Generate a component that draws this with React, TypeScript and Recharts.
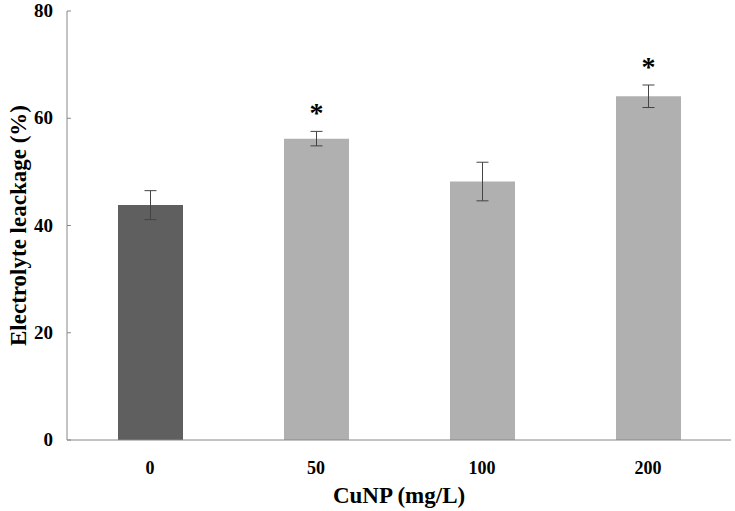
import {
    Bar,
    BarChart,
    Cell,
    ErrorBar,
    LabelList,
    XAxis,
    YAxis,
} from 'recharts'

const categories = ['0', '50', '100', '200']
const leakage = [43.8, 56.2, 48.2, 64.1]
const sd = [2.7, 1.35, 3.6, 2.1]
const marks = ['', '*', '', '*']
const barColors = ['#5f5f5f', '#b0b0b0', '#b0b0b0', '#b0b0b0']
const yTicks = [0, 20, 40, 60, 80]

const data = categories.map((c, i) => ({
    dose: c,
    value: leakage[i],
    err: sd[i],
    mark: marks[i],
}))

const FONT = '"Liberation Serif", "Times New Roman", serif'
const PLOT_LEFT = 67

function YTick(props: any) {
    const { x, y, payload } = props
    return (
        <g>
            <line
                x1={PLOT_LEFT}
                x2={PLOT_LEFT + 4}
                y1={y}
                y2={y}
                stroke="#888"
            />
            <text
                x={x}
                y={y}
                dy={6}
                textAnchor="end"
                fontFamily={FONT}
                fontWeight="bold"
                fontSize={19}
                fill="#000"
            >
                {payload.value}
            </text>
        </g>
    )
}

function YTitle(props: any) {
    const { viewBox } = props
    const cy = viewBox.y + viewBox.height / 2
    return (
        <text
            x={18}
            y={cy}
            transform={`rotate(-90, 18, ${cy})`}
            dy={8}
            textAnchor="middle"
            fontFamily={FONT}
            fontWeight="bold"
            fontSize={23}
            fill="#000"
        >
            Electrolyte leackage (%)
        </text>
    )
}

function StarLabel(props: any) {
    const { x, y, width, height, value, index } = props
    const mark = marks[index]
    if (!mark) return null
    const perUnit = height / value
    const errTop = y - sd[index] * perUnit
    return (
        <text
            x={x + width / 2}
            y={errTop - 9}
            textAnchor="middle"
            fontFamily={FONT}
            fontWeight="bold"
            fontSize={28}
            fill="#000"
        >
            {mark}
        </text>
    )
}

export default function App() {
    return (
        <div style={{ position: 'absolute', left: 0, top: 0 }}>
            <BarChart
                width={735}
                height={511}
                data={data}
                margin={{ left: 7, right: 4, top: 11, bottom: 0 }}
                barSize={65}
            >
                <XAxis
                    dataKey="dose"
                    height={71}
                    stroke="#888"
                    tickLine={false}
                    tick={{
                        fill: '#000',
                        fontFamily: FONT,
                        fontWeight: 'bold',
                        fontSize: 18,
                    }}
                    tickMargin={15}
                    label={{
                        value: 'CuNP (mg/L)',
                        position: 'insideBottom',
                        offset: 8,
                        fill: '#000',
                        fontFamily: FONT,
                        fontWeight: 'bold',
                        fontSize: 23,
                    }}
                />
                <XAxis
                    xAxisId="top"
                    orientation="top"
                    dataKey="dose"
                    height={0}
                    stroke="#888"
                    tick={false}
                    tickLine={false}
                />
                <YAxis
                    width={60}
                    domain={[0, 80]}
                    ticks={yTicks}
                    stroke="#888"
                    tickLine={false}
                    tick={<YTick />}
                    tickMargin={8}
                    label={<YTitle />}
                />
                <YAxis
                    yAxisId="right"
                    orientation="right"
                    width={0}
                    stroke="#888"
                    tick={false}
                    tickLine={false}
                />
                <Bar dataKey="value" isAnimationActive={false}>
                    {data.map((d, i) => (
                        <Cell key={d.dose} fill={barColors[i]} />
                    ))}
                    <ErrorBar
                        dataKey="err"
                        width={6}
                        stroke="#444"
                        strokeWidth={1}
                    />
                    <LabelList dataKey="value" content={<StarLabel />} />
                </Bar>
            </BarChart>
        </div>
    )
}
